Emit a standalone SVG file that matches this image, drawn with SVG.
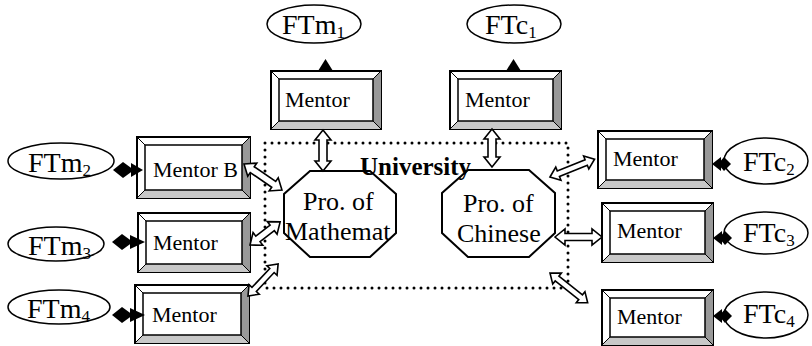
<svg xmlns="http://www.w3.org/2000/svg" width="812" height="346" viewBox="0 0 812 346">
<style>
text{font-family:"Liberation Serif","Times New Roman",serif;fill:#000}
.mt{font-size:22px}
.ft{font-size:28px}
.sub{font-size:17px}
.pro{font-size:26px}
.uni{font-size:25px;font-weight:bold}
.outer{fill:#fff;stroke:#000;stroke-width:2}
.inner{fill:#fff;stroke:#000;stroke-width:1.5}
.rb{fill:#999;stroke:none}
.bb{fill:#c8c8c8;stroke:none}
.cd{stroke:#000;stroke-width:1}
.ell{fill:#fff;stroke:#000;stroke-width:1.5}
.oct{fill:#fff;stroke:#000;stroke-width:2}
.dot{fill:none;stroke:#000;stroke-width:3;stroke-dasharray:0 7;stroke-linecap:round}
.ba{fill:#fff;stroke:#000;stroke-width:1.6;stroke-linejoin:miter}
.blk{fill:#000;stroke:none}
</style>

<rect id="university" class="dot" x="265" y="143" width="303" height="145"/>

<g id="nodes">
<g id="mentor-m1" transform="translate(271,71)">
<rect class="outer" x="0" y="0" width="110" height="58"/>
<polygon class="rb" points="110,0 110,58 102,50 102,8"/>
<polygon class="bb" points="0,58 110,58 102,50 8,50"/>
<rect class="inner" x="8" y="8" width="94" height="42"/>
<path class="cd" d="M0,0L8,8M110,0L102,8M0,58L8,50M110,58L102,50"/>
<text class="mt" x="14" y="36">Mentor</text>
</g>
<g id="mentor-c1" transform="translate(450,71)">
<rect class="outer" x="0" y="0" width="111" height="58"/>
<polygon class="rb" points="111,0 111,58 103,50 103,8"/>
<polygon class="bb" points="0,58 111,58 103,50 8,50"/>
<rect class="inner" x="8" y="8" width="95" height="42"/>
<path class="cd" d="M0,0L8,8M111,0L103,8M0,58L8,50M111,58L103,50"/>
<text class="mt" x="15" y="36">Mentor</text>
</g>
<g id="mentor-b" transform="translate(137,137)">
<rect class="outer" x="0" y="0" width="113" height="61"/>
<polygon class="rb" points="113,0 113,61 105,53 105,8"/>
<polygon class="bb" points="0,61 113,61 105,53 8,53"/>
<rect class="inner" x="8" y="8" width="97" height="45"/>
<path class="cd" d="M0,0L8,8M113,0L105,8M0,61L8,53M113,61L105,53"/>
<text class="mt" x="16" y="40">Mentor B</text>
</g>
<g id="mentor-m3" transform="translate(138,213)">
<rect class="outer" x="0" y="0" width="112" height="59"/>
<polygon class="rb" points="112,0 112,59 104,51 104,8"/>
<polygon class="bb" points="0,59 112,59 104,51 8,51"/>
<rect class="inner" x="8" y="8" width="96" height="43"/>
<path class="cd" d="M0,0L8,8M112,0L104,8M0,59L8,51M112,59L104,51"/>
<text class="mt" x="15" y="37">Mentor</text>
</g>
<g id="mentor-m4" transform="translate(135,285)">
<rect class="outer" x="0" y="0" width="114" height="58"/>
<polygon class="rb" points="114,0 114,58 106,50 106,8"/>
<polygon class="bb" points="0,58 114,58 106,50 8,50"/>
<rect class="inner" x="8" y="8" width="98" height="42"/>
<path class="cd" d="M0,0L8,8M114,0L106,8M0,58L8,50M114,58L106,50"/>
<text class="mt" x="17" y="37">Mentor</text>
</g>
<g id="mentor-c2" transform="translate(598,131)">
<rect class="outer" x="0" y="0" width="114" height="57"/>
<polygon class="rb" points="114,0 114,57 106,49 106,8"/>
<polygon class="bb" points="0,57 114,57 106,49 8,49"/>
<rect class="inner" x="8" y="8" width="98" height="41"/>
<path class="cd" d="M0,0L8,8M114,0L106,8M0,57L8,49M114,57L106,49"/>
<text class="mt" x="15" y="35">Mentor</text>
</g>
<g id="mentor-c3" transform="translate(602,203)">
<rect class="outer" x="0" y="0" width="111" height="59"/>
<polygon class="rb" points="111,0 111,59 103,51 103,8"/>
<polygon class="bb" points="0,59 111,59 103,51 8,51"/>
<rect class="inner" x="8" y="8" width="95" height="43"/>
<path class="cd" d="M0,0L8,8M111,0L103,8M0,59L8,51M111,59L103,51"/>
<text class="mt" x="15" y="35">Mentor</text>
</g>
<g id="mentor-c4" transform="translate(602,290)">
<rect class="outer" x="0" y="0" width="111" height="55"/>
<polygon class="rb" points="111,0 111,55 103,47 103,8"/>
<polygon class="bb" points="0,55 111,55 103,47 8,47"/>
<rect class="inner" x="8" y="8" width="95" height="39"/>
<path class="cd" d="M0,0L8,8M111,0L103,8M0,55L8,47M111,55L103,47"/>
<text class="mt" x="15" y="34">Mentor</text>
</g>

<g id="ftm1"><ellipse class="ell" cx="314" cy="24" rx="47" ry="19"/><text class="ft" x="282" y="34">FTm<tspan class="sub" dy="4">1</tspan></text></g>
<g id="ftc1"><ellipse class="ell" cx="514" cy="24" rx="47" ry="19"/><text class="ft" x="485" y="34">FTc<tspan class="sub" dy="4">1</tspan></text></g>
<g id="ftm2"><ellipse class="ell" cx="61" cy="161" rx="53" ry="18"/><text class="ft" x="28" y="172">FTm<tspan class="sub" dy="4">2</tspan></text></g>
<g id="ftm3"><ellipse class="ell" cx="56" cy="244" rx="48" ry="17"/><text class="ft" x="28" y="255">FTm<tspan class="sub" dy="4">3</tspan></text></g>
<g id="ftm4"><ellipse class="ell" cx="59" cy="307" rx="51" ry="17"/><text class="ft" x="27" y="318">FTm<tspan class="sub" dy="4">4</tspan></text></g>
<g id="ftc2"><ellipse class="ell" cx="766" cy="161" rx="42" ry="23"/><text class="ft" x="743" y="171">FTc<tspan class="sub" dy="4">2</tspan></text></g>
<g id="ftc3"><ellipse class="ell" cx="766" cy="233" rx="42" ry="21"/><text class="ft" x="743" y="242">FTc<tspan class="sub" dy="4">3</tspan></text></g>
<g id="ftc4"><ellipse class="ell" cx="766" cy="315" rx="42" ry="23"/><text class="ft" x="743" y="323">FTc<tspan class="sub" dy="4">4</tspan></text></g>

<g id="pro-math">
<polygon class="oct" points="310,171 370,171 396,194 396,233 370,257 310,257 284,233 284,194"/>
<text class="pro" x="303" y="210">Pro. of</text>
<text class="pro" x="285" y="240">Mathemat</text>
</g>
<g id="pro-chinese">
<polygon class="oct" points="468,170 529,170 555,193 555,233 529,257 468,257 442,233 442,193"/>
<text class="pro" x="463" y="212">Pro. of</text>
<text class="pro" x="457" y="242">Chinese</text>
</g>
<text class="uni" x="360" y="175">University</text>
</g>

<g id="connectors">
<polygon class="blk" points="318,71 333,71 325.5,59"/>
<polygon class="blk" points="506,71 521,71 513.5,59"/>
<polygon class="blk" points="113,170 123,162 134,170 123,178"/>
<polygon class="blk" points="131,163 143,170 131,177"/>
<polygon class="blk" points="112,242 122,234 133,242 122,250"/>
<polygon class="blk" points="130,235 145,242 130,249"/>
<polygon class="blk" points="112,315 122,307 133,315 122,323"/>
<polygon class="blk" points="130,308 145,315 130,322"/>
<polygon class="blk" points="712,164 721,157 721,171"/>
<polygon class="blk" points="718,164 724,157 731,164 724,171"/>
<polygon class="blk" points="713,238 722,231 722,245"/>
<polygon class="blk" points="719,238 725,231 732,238 725,245"/>
<polygon class="blk" points="713,316 722,309 722,323"/>
<polygon class="blk" points="719,316 725,309 732,316 725,323"/>

<polygon class="ba" transform="translate(323,130) rotate(90)" points="0,0 10,-8 10,-4 31,-4 31,-8 41,0 31,8 31,4 10,4 10,8"/>
<polygon class="ba" transform="translate(492,129) rotate(90)" points="0,0 10,-8 10,-4 28,-4 28,-8 38,0 28,8 28,4 10,4 10,8"/>
<polygon class="ba" transform="translate(244,164) rotate(34.4)" points="0,0 10,-8 10,-3.5 36,-3.5 36,-8 46,0 36,8 36,3.5 10,3.5 10,8"/>
<polygon class="ba" transform="translate(250,245) rotate(-37.5)" points="0,0 10,-8 10,-3.5 28,-3.5 28,-8 38,0 28,8 28,3.5 10,3.5 10,8"/>
<polygon class="ba" transform="translate(248,296) rotate(-46.8)" points="0,0 9,-7 9,-3 35,-3 35,-7 44,0 35,7 35,3 9,3 9,7"/>
<polygon class="ba" transform="translate(550,177) rotate(-21.8)" points="0,0 9,-7 9,-3 39,-3 39,-7 48,0 39,7 39,3 9,3 9,7"/>
<polygon class="ba" transform="translate(555,237)" points="0,0 10,-8 10,-3.5 37,-3.5 37,-8 47,0 37,8 37,3.5 10,3.5 10,8"/>
<polygon class="ba" transform="translate(550,273) rotate(38.3)" points="0,0 9,-7 9,-3 39,-3 39,-7 48,0 39,7 39,3 9,3 9,7"/>
</g>
</svg>
